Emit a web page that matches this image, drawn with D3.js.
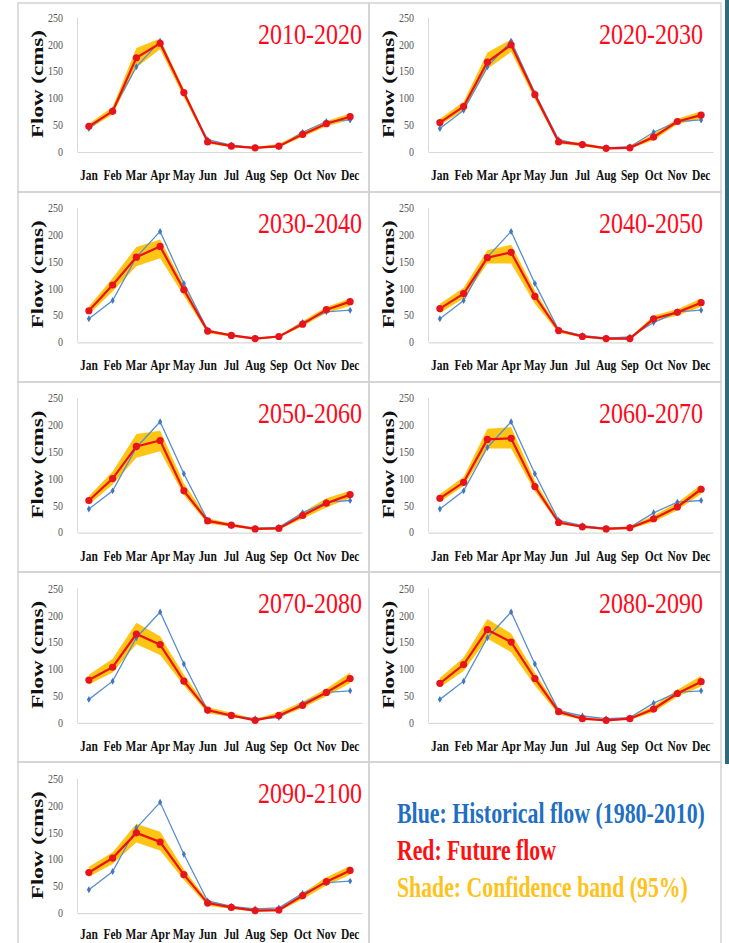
<!DOCTYPE html>
<html>
<head>
<meta charset="utf-8">
<script src="https://cdn.jsdelivr.net/npm/d3@7"></script>
<style>
html,body{margin:0;padding:0;background:#fff;overflow:hidden;}
svg{display:block;}
</style>
</head>
<body>
<svg id="chart" width="729" height="943"></svg>
<script>
const months = ["Jan","Feb","Mar","Apr","May","Jun","Jul","Aug","Sep","Oct","Nov","Dec"];
const periods = ["2010-2020","2020-2030","2030-2040","2040-2050","2050-2060","2060-2070","2070-2080","2080-2090","2090-2100"];
const yTicks = [0,50,100,150,200,250];
const historical = [42,76,157,205,108,21,11,6,8,35,55,58];
const future = [
 [46,74,174,201,109,17,9,6,9,31,51,64],
 [53,83,166,198,105,17,12,5,6,26,55,67],
 [57,105,157,177,96,19,11,5,9,32,59,74],
 [61,89,156,166,84,20,9,5,5,42,54,72],
 [58,99,159,170,76,20,12,5,6,30,53,69],
 [62,92,172,174,84,17,9,5,7,24,46,79],
 [78,102,164,144,76,22,12,3,12,31,55,81],
 [72,107,172,149,81,19,6,3,6,24,53,75],
 [74,101,148,131,70,17,9,3,4,31,57,78]
];
const lower = [
 [41,68,156,190,100,14,7,4,7,26,46,58],
 [48,76,153,185,96,14,9,3,4,20,50,60],
 [50,93,140,155,85,15,9,3,7,28,53,66],
 [53,80,145,145,70,16,7,3,3,37,48,64],
 [50,88,138,150,68,15,9,3,4,24,45,62],
 [55,85,155,155,75,14,7,3,5,18,40,70],
 [70,92,145,125,68,16,9,2,8,26,48,72],
 [64,95,155,130,68,14,4,2,4,18,47,66],
 [66,90,130,115,60,12,6,1,2,24,50,70]
];
const upper = [
 [51,82,192,210,115,20,11,8,13,36,56,70],
 [60,92,184,208,110,21,15,7,8,32,60,74],
 [65,118,176,190,105,22,13,7,11,38,64,80],
 [70,100,170,180,95,23,11,7,7,48,60,80],
 [66,112,182,188,90,25,15,7,8,36,62,76],
 [70,102,192,195,95,22,11,7,10,30,54,88],
 [88,118,185,160,88,28,17,6,18,38,62,92],
 [82,120,192,165,92,24,9,5,9,30,60,86],
 [85,112,165,150,80,22,12,5,7,36,65,86]
];
const legendLines = [
 {text:"Blue: Historical flow (1980-2010)", color:"#1f6fc4", width:308},
 {text:"Red: Future flow", color:"#ff1010", width:159},
 {text:"Shade: Confidence band (95%)", color:"#ffc21a", width:291}
];

const svg = d3.select("#chart");
const SERIF = "'Liberation Serif','DejaVu Serif',serif";
const SX = 0.74; // horizontal squeeze of the reference's text

const colLeft = [18, 369];
const colRight = [369, 721];
const rowTop = [3, 192, 382, 572, 762];

// teal strip on the right edge
svg.append("rect").attr("x",725).attr("y",0).attr("width",4).attr("height",764).attr("fill","#2d6c7d");

// panel boxes
rowTop.forEach((t,r)=>{
  [0,1].forEach(c=>{
    const h = (r===4) ? 200 : (rowTop[r+1]-t);
    svg.append("rect").attr("x",colLeft[c]).attr("y",t)
      .attr("width",colRight[c]-colLeft[c]).attr("height",h)
      .attr("fill","none").attr("stroke","#d2d2d2").attr("stroke-width",1.5);
  });
});

periods.forEach((p,i)=>{
  const r = Math.floor(i/2), c = i%2;
  const ax = colLeft[c] + 59;
  const zero = 151 + 190.3*r;
  const x = d3.scaleBand().domain(months).range([ax, ax+285]).padding(0);
  const y = d3.scaleLinear().domain([0,250]).range([zero, zero-134]);
  const cx = m => x(m) + x.bandwidth()/2;
  const g = svg.append("g");

  // axes
  const yAxis = d3.axisLeft(y).tickValues(yTicks).tickSize(0).tickPadding(0).tickFormat(d3.format("d"));
  const ya = g.append("g").attr("transform",`translate(${ax},0)`).call(yAxis);
  ya.select(".domain").attr("stroke","#d9d9d9").attr("stroke-width",1);
  ya.selectAll("text").each(function(){
    const t = d3.select(this);
    t.attr("x",0).attr("y",0).attr("dy","0.32em")
     .attr("transform",`translate(-14,0) scale(${SX},1)`)
     .attr("text-anchor","end")
     .attr("font-family",SERIF).attr("font-size",13.5).attr("fill","#555");
  });
  const xAxis = d3.axisBottom(x).tickSize(0).tickPadding(0);
  const xa = g.append("g").attr("transform",`translate(0,${zero+1})`).call(xAxis);
  xa.select(".domain").attr("stroke","#d9d9d9").attr("stroke-width",1.2);
  const lblY = (r===4) ? 26 : 28;
  xa.selectAll(".tick text").each(function(){
    d3.select(this).attr("y",0).attr("dy",0)
      .attr("transform",`translate(0,${lblY}) scale(${SX},1)`)
      .attr("font-family",SERIF).attr("font-weight","bold")
      .attr("font-size",15.5).attr("fill","#111");
  });

  // y title
  g.append("text")
    .attr("transform",`translate(${ax-40},${zero-67}) scale(${SX},1) rotate(-90)`)
    .attr("text-anchor","middle").attr("dy","0.35em")
    .attr("font-family",SERIF).attr("font-weight","bold")
    .attr("font-size",23).attr("fill","#111")
    .text("Flow (cms)");

  // confidence band
  const area = d3.area().x((d,k)=>cx(months[k])).y0(d=>y(d[0])).y1(d=>y(d[1]));
  g.append("path").datum(lower[i].map((v,k)=>[v,upper[i][k]]))
    .attr("d",area).attr("fill","#ffc000").attr("opacity",0.92);

  // historical line
  const line = d3.line().x((d,k)=>cx(months[k])).y(d=>y(d));
  g.append("path").datum(historical).attr("d",line)
    .attr("fill","none").attr("stroke","#5a8fcc").attr("stroke-width",1.3);
  g.selectAll(".hm").data(historical).join("path")
    .attr("transform",(d,k)=>`translate(${cx(months[k])},${y(d)})`)
    .attr("d",d3.symbol(d3.symbolDiamond,14))
    .attr("fill","#3f77c0");

  // future line
  g.append("path").datum(future[i]).attr("d",line)
    .attr("fill","none").attr("stroke","#ee1111").attr("stroke-width",2.2);
  g.selectAll(".fm").data(future[i]).join("circle")
    .attr("cx",(d,k)=>cx(months[k])).attr("cy",d=>y(d)).attr("r",3.6)
    .attr("fill","#e8141b");

  // period title
  g.append("text")
    .attr("x", c===0 ? 362 : 703).attr("y", rowTop[r]+41)
    .attr("text-anchor","end")
    .attr("font-family",SERIF).attr("font-size",30).attr("fill","#ff0a1a")
    .attr("textLength",104).attr("lengthAdjust","spacingAndGlyphs")
    .text(p);
});

// legend (natural width measured, then squeezed to the reference width)
legendLines.forEach((l,k)=>{
  const t = svg.append("text")
    .attr("x",0).attr("y",0)
    .attr("font-family",SERIF).attr("font-weight","bold")
    .attr("font-size",29).attr("fill",l.color)
    .text(l.text);
  const w = t.node().getComputedTextLength() || l.width;
  t.attr("transform",`translate(397,${823 + k*37}) scale(${l.width/w},1)`);
});
</script>
</body>
</html>
